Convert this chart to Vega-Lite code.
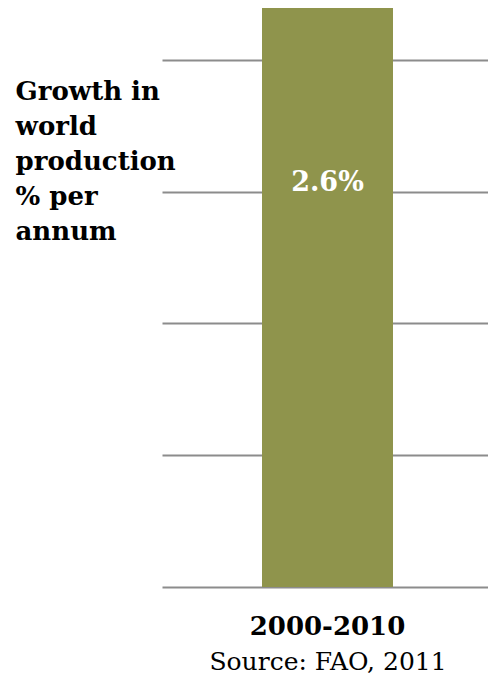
{
  "$schema": "https://vega.github.io/schema/vega-lite/v6.json",
  "width": 331,
  "height": 587,
  "autosize": {"type": "none"},
  "padding": {"left": 162, "top": 0, "right": 0, "bottom": 90},
  "background": "white",
  "config": {"view": {"stroke": null}, "font": "DejaVu Serif"},
  "data": {"values": [{"period": "2000-2010", "growth": 2.6, "label": "2.6%"}]},
  "encoding": {
    "x": {
      "field": "period",
      "type": "nominal",
      "scale": {"paddingInner": 0, "paddingOuter": 0.7634},
      "axis": {
        "title": "Source: FAO, 2011",
        "titleFont": "DejaVu Serif",
        "titleFontSize": 25,
        "titleFontWeight": "normal",
        "titleColor": "#000",
        "titlePadding": 10,
        "labelAngle": 0,
        "labelFont": "DejaVu Serif",
        "labelFontSize": 26,
        "labelFontWeight": "bold",
        "labelColor": "#000",
        "labelPadding": 26,
        "domain": false,
        "ticks": false,
        "grid": false
      }
    },
    "y": {
      "field": "growth",
      "type": "quantitative",
      "scale": {"domain": [0, 2.636], "nice": false},
      "axis": {
        "values": [0, 0.5917, 1.1833, 1.775, 2.3667],
        "grid": true,
        "gridColor": "#8c8c8c",
        "gridWidth": 2,
        "gridOpacity": 1,
        "labels": false,
        "ticks": false,
        "domain": false,
        "title": ["Growth in", "world", "production", "% per", "annum"],
        "titleAngle": 0,
        "titleAlign": "left",
        "titleBaseline": "top",
        "titleFont": "DejaVu Serif",
        "titleFontSize": 26,
        "titleFontWeight": "bold",
        "titleColor": "#000",
        "titleLineHeight": 35,
        "titleX": -147,
        "titleY": 78
      }
    }
  },
  "layer": [
    {"mark": {"type": "bar", "color": "#8f944c"}},
    {
      "mark": {"type": "text", "color": "white", "font": "DejaVu Serif", "fontSize": 27, "fontWeight": "bold", "baseline": "alphabetic", "dy": 183},
      "encoding": {"text": {"field": "label"}}
    }
  ]
}
